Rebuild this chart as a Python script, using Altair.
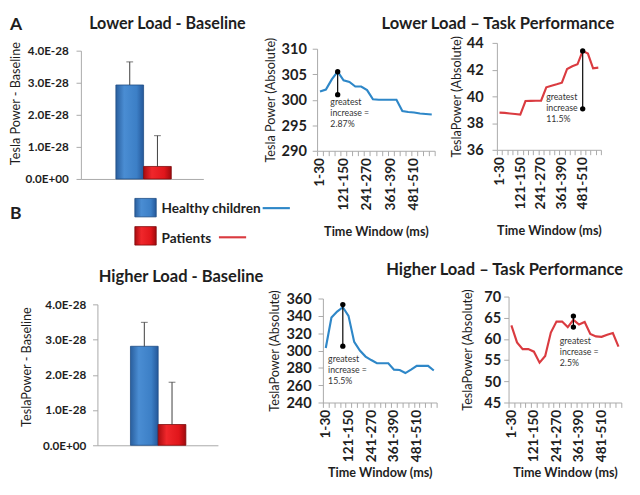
import altair as alt
import pandas as pd

# ---------------- data ----------------
time_windows = ["1-30", "31-60", "61-90", "91-120", "121-150", "151-180", "181-210",
                "211-240", "241-270", "271-300", "301-330", "331-360", "361-390",
                "391-420", "421-450", "451-480", "481-510", "511-540", "541-570", "571-600"]

bar_groups = ["Healthy children", "Patients"]
lower_bar_mean = [2.93e-28, 0.39e-28]
lower_bar_upper = [3.65e-28, 1.35e-28]
higher_bar_mean = [2.81e-28, 0.59e-28]
higher_bar_upper = [3.49e-28, 1.79e-28]

lower_healthy_power = [301.6, 302.0, 304.0, 305.5, 303.8, 303.5, 302.6, 302.6, 301.9, 300.1,
                       300.0, 300.0, 300.0, 300.0, 297.8, 297.6, 297.5, 297.3, 297.2, 297.1]
lower_patient_power = [38.78, 38.76, 38.72, 38.68, 38.63, 39.65, 39.66, 39.67, 39.68, 40.68,
                       40.80, 40.90, 41.02, 42.05, 42.25, 42.40, 43.40, 43.20, 42.10, 42.15]
higher_healthy_power = [303.0, 338.0, 345.0, 350.0, 340.0, 310.0, 300.0, 293.0, 289.0, 285.5,
                        285.3, 285.3, 278.0, 277.5, 274.0, 278.0, 282.3, 282.3, 282.3, 277.0]
higher_patient_power = [63.2, 59.2, 57.6, 57.6, 57.0, 54.4, 56.0, 61.5, 64.1, 64.1,
                        62.8, 64.5, 63.4, 64.0, 61.2, 60.6, 60.5, 61.0, 61.4, 58.2]

# greatest increase markers: [window index, lower point, upper point]
lower_healthy_peak = [3, 301.0, 305.5]
lower_patient_peak = [16, 39.07, 43.4]
higher_healthy_peak = [3, 305.0, 353.0]
higher_patient_peak = [11, 62.8, 65.4]
increase_labels = ["2.87%", "11.5%", "15.5%", "2.5%"]

# ---------------- styling ----------------
FONT = "Lato"
INK = "#1E1E1E"
AXIS_GRAY = "#A8A8A8"
BLUE_LINE = "#2E87C8"
RED_LINE = "#DA3B40"


def grad(stops):
    return alt.Gradient(gradient="linear", x1=0, x2=1, y1=0, y2=0,
                        stops=[alt.GradientStop(offset=o, color=c) for o, c in stops])


BLUE_FILL = grad([(0, "#2A5F9E"), (0.3, "#4A8DD3"), (0.75, "#3C7FC6"), (1, "#25589A")])
RED_FILL = grad([(0, "#A90C10"), (0.3, "#F0272B"), (0.75, "#E0161B"), (1, "#A00A0D")])


def text_layer(txt, x, y, size, weight="bold", align="left", baseline="top", color=INK):
    return alt.Chart(pd.DataFrame({"t": [txt]})).mark_text(
        align=align, baseline=baseline, font=FONT, fontSize=size,
        fontWeight=weight, color=color
    ).encode(x=alt.value(x), y=alt.value(y), text="t:N")


def rect_layer(x, x2, y, y2, fill, stroke):
    return alt.Chart(pd.DataFrame({"k": [0]})).mark_rect(
        fill=fill, stroke=stroke, strokeWidth=0.8
    ).encode(x=alt.value(x), x2=alt.value(x2), y=alt.value(y), y2=alt.value(y2))


def seg_layer(x, x2, y, color):
    return alt.Chart(pd.DataFrame({"k": [0]})).mark_rule(
        color=color, strokeWidth=2.2
    ).encode(x=alt.value(x), x2=alt.value(x2), y=alt.value(y))


def bar_panel(means, uppers, cell_w, x_range, height, top, pad_left, pad_right,
              y_title, label_pad, title_pad, title_y, extras):
    df = pd.DataFrame({"group": bar_groups, "mean": means, "upper": uppers})
    base = alt.Chart(df).transform_window(pos="row_number()").transform_calculate(
        left="datum.pos - 0.5", right="datum.pos + 0.5", zero="0")
    xscale = alt.Scale(domain=[0.5 - pad_left, 2.5 + pad_right], range=x_range,
                       nice=False, zero=False)
    xaxis = alt.Axis(labels=False, ticks=False, title=None, grid=False,
                     domainColor=AXIS_GRAY, domainWidth=1)
    yscale = alt.Scale(domain=[0, 4e-28], range=[height, top], nice=False)
    yaxis = alt.Axis(
        values=[0, 1e-28, 2e-28, 3e-28, 4e-28],
        labelExpr="datum.value == 0 ? '0.0E+00' : format(datum.value * 1e28, '.1f') + 'E-28'",
        labelFont=FONT, labelFontSize=12, labelFontWeight="bold", labelColor=INK,
        labelPadding=label_pad, tickSize=5, tickColor=AXIS_GRAY, domainColor=AXIS_GRAY,
        grid=False, title=y_title, titleFont=FONT, titleFontSize=13,
        titleFontWeight="normal", titleColor=INK, titlePadding=title_pad,
        titleY=title_y, offset=-x_range[0])

    layers = []
    for g, fill, stroke in [(bar_groups[0], BLUE_FILL, "#1E4C84"),
                            (bar_groups[1], RED_FILL, "#7E0A0C")]:
        layers.append(base.transform_filter(alt.datum.group == g).mark_bar(
            fill=fill, stroke=stroke, strokeWidth=0.8).encode(
            x=alt.X("left:Q", scale=xscale, axis=xaxis), x2="right:Q",
            y=alt.Y("mean:Q", scale=yscale, axis=yaxis), y2="zero:Q"))
    layers.append(base.mark_rule(color="#3A3A3A", strokeWidth=1).encode(
        x=alt.X("pos:Q", scale=xscale, axis=xaxis),
        y=alt.Y("mean:Q", scale=yscale, axis=yaxis), y2="upper:Q"))
    layers.append(base.mark_tick(orient="horizontal", size=7, thickness=1,
                                 color="#3A3A3A").encode(
        x=alt.X("pos:Q", scale=xscale, axis=xaxis),
        y=alt.Y("upper:Q", scale=yscale, axis=yaxis)))
    return alt.layer(*layers, *extras).properties(width=cell_w, height=height)


def line_panel(values, color, peak, note, note_xy, cell_w, x_range, height, top,
               y_domain, y_values, y_title, y_label_pad, y_title_pad, x_title_pad, extras):
    n = len(time_windows)
    df = pd.DataFrame({"idx": list(range(n)), "window": time_windows, "power": values})
    expr = " : ".join(f"datum.value == {i - 0.5} ? '{time_windows[i]}'"
                      for i in range(0, n, 4)) + " : ''"
    span = x_range[1] - x_range[0]
    xscale = alt.Scale(domain=[-0.5, n - 0.5], range=x_range, nice=False, zero=False)
    xaxis = alt.Axis(values=[i - 0.5 for i in range(n + 1)], labelExpr=expr,
                     labelAngle=-90, labelOffset=span / n / 2, labelOverlap=False,
                     labelFlush=False, labelFont=FONT, labelFontSize=14,
                     labelFontWeight="bold", labelColor=INK, labelPadding=2,
                     tickSize=5, tickColor=AXIS_GRAY, domainColor=AXIS_GRAY,
                     grid=False, title="Time Window (ms)", titleFont=FONT,
                     titleFontSize=13, titleFontWeight="bold", titleColor=INK,
                     titlePadding=x_title_pad)
    yscale = alt.Scale(domain=y_domain, range=[height, top], nice=False, zero=False)
    yaxis = alt.Axis(values=y_values, labelFont=FONT, labelFontSize=15,
                     labelFontWeight="bold", labelColor=INK, labelPadding=y_label_pad,
                     tickSize=5, tickColor=AXIS_GRAY, domainColor=AXIS_GRAY, grid=False,
                     title=y_title, titleFont=FONT, titleFontSize=13,
                     titleFontWeight="normal", titleColor=INK, titlePadding=y_title_pad,
                     offset=-x_range[0])

    line = alt.Chart(df).mark_line(color=color, strokeWidth=2.2).encode(
        x=alt.X("idx:Q", scale=xscale, axis=xaxis),
        y=alt.Y("power:Q", scale=yscale, axis=yaxis))
    pk = pd.DataFrame({"idx": [peak[0]], "low": [peak[1]], "high": [peak[2]]})
    rule = alt.Chart(pk).mark_rule(color="black", strokeWidth=1.2).encode(
        x=alt.X("idx:Q", scale=xscale, axis=xaxis),
        y=alt.Y("low:Q", scale=yscale, axis=yaxis), y2="high:Q")
    dots = alt.Chart(pk).transform_fold(["low", "high"], as_=["end", "val"]).mark_point(
        filled=True, size=30, color="black", opacity=1).encode(
        x=alt.X("idx:Q", scale=xscale, axis=xaxis),
        y=alt.Y("val:Q", scale=yscale, axis=yaxis))
    txt = alt.Chart(pd.DataFrame({"t": [note]})).mark_text(
        align="left", baseline="top", lineBreak="\n", font=FONT, fontSize=9,
        lineHeight=11.7, color="#333333").encode(
        x=alt.X(datum=note_xy[0], type="quantitative", scale=xscale, axis=xaxis),
        y=alt.Y(datum=note_xy[1], type="quantitative", scale=yscale, axis=yaxis),
        text="t:N")
    return alt.layer(line, rule, dots, txt, *extras).properties(width=cell_w, height=height)


# ---------------- panels (3-column grid) ----------------
COL1, COL2, COL3 = 243, 185, 128

a1_extras = [
    text_layer("A", -73, -27, 18),
    text_layer("B", -73, 167, 18),
    text_layer("Lower Load - Baseline", 89, -27, 16.6, align="center"),
    rect_layer(55.5, 77.5, 160, 179, BLUE_FILL, "#1E4C84"),
    rect_layer(55.5, 77.5, 189, 208, RED_FILL, "#7E0A0C"),
    text_layer(bar_groups[0], 83, 171, 14, baseline="middle"),
    text_layer(bar_groups[1], 83, 202, 14, baseline="middle"),
    seg_layer(187, 215, 170, BLUE_LINE),
    seg_layer(142, 170, 200, RED_LINE),
]
A1 = bar_panel(lower_bar_mean, lower_bar_upper, COL1, [0, 126], 140, 8, 36 / 28.5, 33 / 28.5,
               "Tesla Power - Baseline", 8, 3, 62, a1_extras)

B1 = line_panel(lower_healthy_power, BLUE_LINE, lower_healthy_peak,
                "greatest\nincrease =\n" + increase_labels[0], (1.76, 300.4),
                COL2, [0, 121], 111, 6, [290, 310], [290, 295, 300, 305, 310],
                "Tesla Power  (Absolute)", 6, 4, 16,
                [text_layer("Lower Load \u2013 Task Performance", 186, -27, 17, align="center")])

C1 = line_panel(lower_patient_power, RED_LINE, lower_patient_peak,
                "greatest\nincrease\n" + increase_labels[1], (8.98, 40.26),
                COL3, [0, 107], 110, 0, [36, 44], [36, 38, 40, 42, 44],
                "TeslaPower  (Absolute)", 9, 3, 16, [])

a2_extras = [text_layer("Higher Load - Baseline", 103, -28, 17, align="center")]
A2 = bar_panel(higher_bar_mean, higher_bar_upper, COL1, [17, 141], 153, 8, 34 / 28.5, 33 / 28.5,
               "TeslaPower - Baseline", 7, 9, 72, a2_extras)

B2 = line_panel(higher_healthy_power, BLUE_LINE, higher_healthy_peak,
                "greatest\nincrease =\n" + increase_labels[2], (0.41, 295.0),
                COL2, [6, 123], 109, 2, [240, 360], [240, 260, 280, 300, 320, 340, 360],
                "TeslaPower  (Absolute)", 7, 5, 5,
                [text_layer("Higher Load \u2013 Task Performance", 193, -35, 17, align="center")])

C2 = line_panel(higher_patient_power, RED_LINE, higher_patient_peak,
                "greatest\nincrease =\n" + increase_labels[3], (8.59, 60.48),
                COL3, [12, 128], 109, 0, [45, 70], [45, 50, 55, 60, 65, 70],
                "TeslaPower  (Absolute)", 3, 10, 5, [])

chart = alt.concat(A1, B1, C1, A2, B2, C2, columns=3, bounds="flush",
                   spacing={"row": 121, "column": 0}).properties(
    padding=1, background="white"
).configure(font=FONT).configure_view(stroke=None)

chart.save("out.html", embed_options={"renderer": "svg", "actions": False})
